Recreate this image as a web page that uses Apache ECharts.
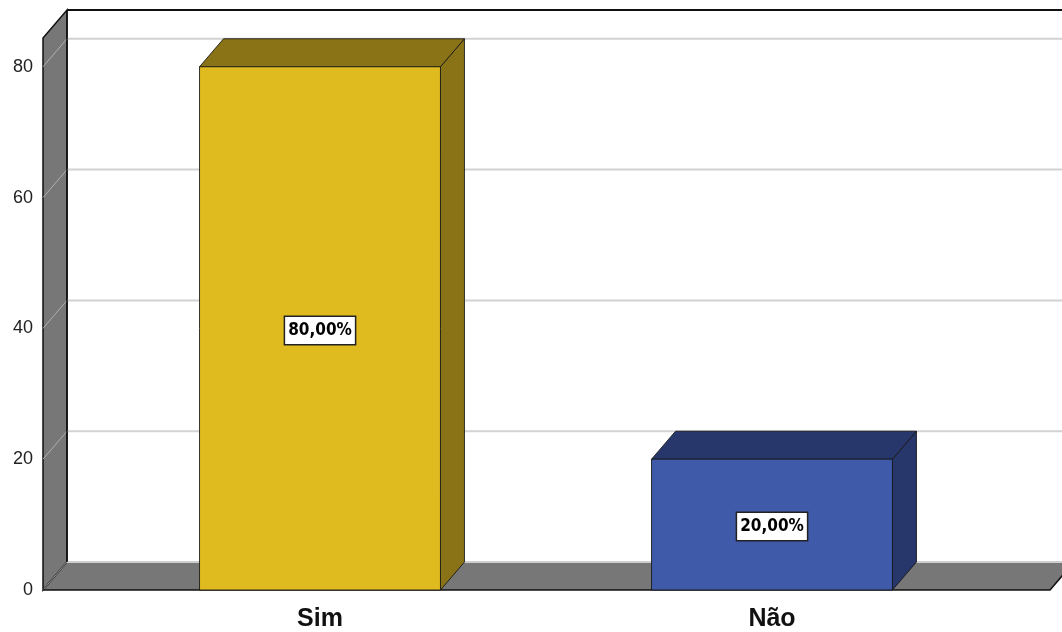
<!DOCTYPE html>
<html>
<head>
<meta charset="utf-8">
<script src="https://cdn.jsdelivr.net/npm/echarts@6/dist/echarts.min.js"></script>
<style>
  html, body { margin: 0; padding: 0; background: #fff; }
  #chart { width: 1062px; height: 632px; }
</style>
</head>
<body>
<div id="chart"></div>
<script>
// Response categories and their share (%)
const categories = ['Sim', 'Não'];
const percentages = [80, 20];
const yTicks = [0, 20, 40, 60, 80];
const frontColors = ['#E0BB1F', '#3E5AA8'];
const sideColors = ['#8A7317', '#27376B'];

// Depth offset of the 3D box (back plane relative to front plane)
const DX = 24, DY = -28;
const WALL_PAD = 51;
const WALL_GREY = '#777777';
const GRID_GREY = '#d2d2d2';

function fmtPct(v) {
  return v.toFixed(2).replace('.', ',') + '%';
}

// Floor, left wall and gridlines on the back wall
function renderFrame(params, api) {
  const cs = params.coordSys;
  const base = api.coord([0, 0]);
  const yBase = base[1];
  const yTop = cs.y;
  const x0 = cs.x - WALL_PAD;
  const x1 = cs.x + cs.width + WALL_PAD + 1;
  const farRight = x1 + DX + 200;
  const children = [];

  // floor
  children.push({
    type: 'polygon',
    shape: { points: [[x0, yBase], [x1, yBase], [x1 + DX, yBase + DY], [x0 + DX, yBase + DY]] },
    style: { fill: WALL_GREY, stroke: null }
  });
  // left wall
  children.push({
    type: 'polygon',
    shape: { points: [[x0, yBase], [x0, yTop], [x0 + DX, yTop + DY], [x0 + DX, yBase + DY]] },
    style: { fill: WALL_GREY, stroke: '#111', lineWidth: 1.5 }
  });
  // gridlines (back wall + diagonal on side wall)
  yTicks.forEach(function (t) {
    const y = api.coord([0, t])[1];
    if (t > 0) {
      children.push({
        type: 'line',
        shape: { x1: x0 + DX, y1: y + DY, x2: farRight, y2: y + DY },
        style: { stroke: GRID_GREY, lineWidth: 2 }
      });
    }
    children.push({
      type: 'line',
      shape: { x1: x0 + DX, y1: y + DY, x2: x0, y2: y },
      style: { stroke: t > 0 ? '#b0b0b0' : '#999999', lineWidth: 1 }
    });
  });
  // floor back edge highlight
  children.push({
    type: 'line',
    shape: { x1: x0 + DX, y1: yBase + DY, x2: farRight, y2: yBase + DY },
    style: { stroke: '#cfcfcf', lineWidth: 2 }
  });
  // back wall left edge
  children.push({
    type: 'line',
    shape: { x1: x0 + DX, y1: yTop + DY, x2: x0 + DX, y2: yBase + DY },
    style: { stroke: '#111', lineWidth: 1.5 }
  });
  // back wall top edge
  children.push({
    type: 'line',
    shape: { x1: x0 + DX, y1: yTop + DY, x2: farRight, y2: yTop + DY },
    style: { stroke: '#111', lineWidth: 2 }
  });
  // floor front and right edges
  children.push({
    type: 'polyline',
    shape: { points: [[x0, yBase], [x1, yBase], [x1 + DX, yBase + DY]] },
    style: { stroke: '#111', lineWidth: 1.5, fill: null }
  });
  return { type: 'group', children: children };
}

// 3D boxes with value label on the front face
function renderBar(params, api) {
  const i = api.value(0);
  const v = api.value(1);
  const c0 = api.coord([i, 0]);
  const c1 = api.coord([i, v]);
  const bw = api.size([1, 0])[0] * 0.533;
  const left = c0[0] - bw / 2;
  const right = c0[0] + bw / 2;
  const top = c1[1];
  const bottom = c0[1];
  const edge = { stroke: 'rgba(20,20,20,0.85)', lineWidth: 1 };
  return {
    type: 'group',
    children: [
      {
        type: 'polygon',
        shape: { points: [[right, top], [right + DX, top + DY], [right + DX, bottom + DY], [right, bottom]] },
        style: Object.assign({ fill: sideColors[i] }, edge)
      },
      {
        type: 'polygon',
        shape: { points: [[left, top], [right, top], [right + DX, top + DY], [left + DX, top + DY]] },
        style: Object.assign({ fill: sideColors[i] }, edge)
      },
      {
        type: 'rect',
        shape: { x: left, y: top, width: bw, height: bottom - top },
        style: Object.assign({ fill: frontColors[i] }, edge)
      },
      {
        type: 'text',
        x: c0[0],
        y: (top + bottom) / 2 + 2,
        style: {
          text: fmtPct(v),
          align: 'center',
          verticalAlign: 'middle',
          fontFamily: '"DejaVu Sans Condensed", "DejaVu Sans", sans-serif',
          fontWeight: 'bold',
          fontSize: 17,
          fill: '#000',
          backgroundColor: '#fff',
          borderColor: '#222',
          borderWidth: 1.5,
          padding: [6, 3, 4, 3]
        }
      }
    ]
  };
}

const chart = echarts.init(document.getElementById('chart'), null, { renderer: 'canvas' });
chart.setOption({
  animation: false,
  backgroundColor: '#fff',
  grid: { left: 94, right: 64, top: 38, bottom: 42 },
  xAxis: {
    type: 'category',
    data: categories,
    axisLine: { show: false },
    axisTick: { show: false },
    splitLine: { show: false },
    axisLabel: {
      margin: 17,
      fontFamily: '"Liberation Sans", Arial, sans-serif',
      fontWeight: 'bold',
      fontSize: 25,
      color: '#111'
    }
  },
  yAxis: {
    type: 'value',
    min: 0,
    max: 84.4,
    interval: 20,
    axisLine: { show: false },
    axisTick: { show: false },
    splitLine: { show: false },
    axisLabel: {
      margin: 61,
      showMaxLabel: false,
      padding: [4, 0, 0, 0],
      fontFamily: '"Liberation Sans", Arial, sans-serif',
      fontSize: 18,
      color: '#222'
    }
  },
  series: [
    {
      type: 'custom',
      renderItem: renderFrame,
      data: [[0, 0]],
      silent: true,
      z: 1
    },
    {
      type: 'custom',
      renderItem: renderBar,
      data: percentages.map(function (p, i) { return [i, p]; }),
      encode: { x: 0, y: 1 },
      z: 2
    }
  ]
});
</script>
</body>
</html>
